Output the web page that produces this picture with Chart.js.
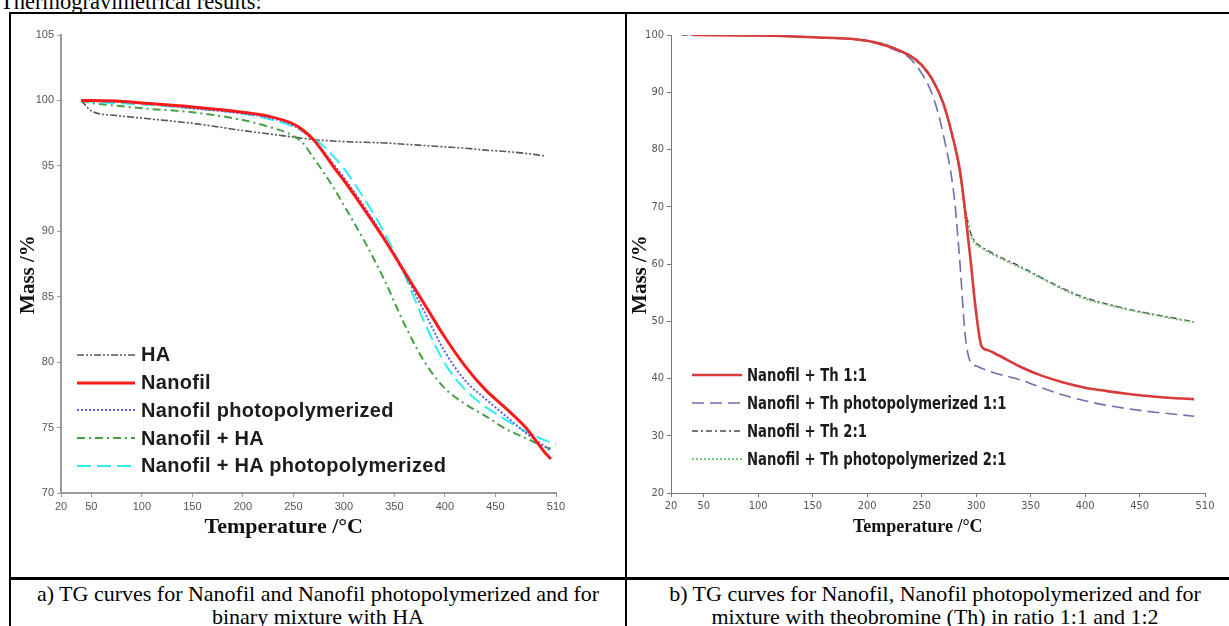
<!DOCTYPE html>
<html>
<head>
<meta charset="utf-8">
<script src="https://cdn.jsdelivr.net/npm/chart.js@4.4.0/dist/chart.umd.min.js"></script>
<style>
  html, body { margin: 0; padding: 0; background: #fff; }
  body { width: 1229px; height: 626px; overflow: hidden; position: relative; font-family: "Liberation Serif", "Times New Roman", serif; color: #000; }
  .heading { position: absolute; left: 0; top: -10px; font-size: 22.5px; line-height: 23px; white-space: nowrap; }
  .rule { position: absolute; background: #000; }
  .box { position: absolute; }
  .legend { position: absolute; font-weight: bold; color: #1c1c1c; white-space: nowrap; }
  .legend .row { display: flex; align-items: center; }
  .legend svg { display: block; flex: none; }
  .legend span { display: inline-block; transform-origin: left center; }
  .caption { position: absolute; top: 582px; text-align: center; font-size: 22px; line-height: 23px; white-space: nowrap; }
</style>
</head>
<body>
<div class="heading">Thermogravimetrical results:</div>

<div class="rule" style="left:9px;top:12px;width:1220px;height:2px"></div>
<div class="rule" style="left:9px;top:12px;width:2px;height:614px"></div>
<div class="rule" style="left:625px;top:12px;width:2px;height:614px"></div>
<div class="rule" style="left:9px;top:577px;width:1220px;height:3px"></div>

<div class="box" style="left:12px;top:15px;width:612px;height:560px"><canvas id="chartA"></canvas></div>
<div class="box" style="left:628px;top:15px;width:600px;height:560px"><canvas id="chartB"></canvas></div>

<div class="legend" id="legendA" style="left:77px;top:341px;font-family:'Liberation Sans',Arial,sans-serif;font-size:20px;letter-spacing:0.3px"></div>
<div class="legend" id="legendB" style="left:692px;top:361px;font-family:'Liberation Sans Narrow','DejaVu Sans Condensed',sans-serif;font-size:17px"></div>

<div class="caption" style="left:11px;width:614px">a) TG curves for Nanofil and Nanofil photopolymerized and for<br>binary mixture with HA</div>
<div class="caption" style="left:627px;width:616px">b) TG curves for Nanofil, Nanofil photopolymerized and for<br>mixture with theobromine (Th) in ratio 1:1 and 1:2</div>

<script>
// ---- chart a) data ----
const tempsA = [40, 50, 75, 100, 150, 200, 225, 250, 260, 270, 280, 290, 300, 320, 340, 360, 380, 400, 420, 440, 460, 480, 500, 505, 510];
const haMass       = [100, 99.2, 98.85, 98.65, 98.25, 97.7, 97.45, 97.2, 97.1, 97.0, 96.95, 96.9, 96.85, 96.8, 96.75, 96.65, 96.55, 96.45, 96.35, 96.2, 96.1, 95.95, 95.75, null, null];
const nanofilMass  = [100, 100, 99.95, 99.8, 99.5, 99.1, 98.8, 98.2, 97.7, 97.0, 96.0, 94.9, 93.9, 91.7, 89.4, 86.9, 84.4, 81.9, 79.7, 77.9, 76.5, 75.0, 73.0, 72.6, null];
const nanofilPhoto = [100, 99.95, 99.9, 99.8, 99.4, 99.0, 98.7, 98.1, 97.6, 97.0, 96.1, 95.1, 94.1, 91.9, 89.5, 86.8, 83.8, 80.8, 78.6, 77.2, 75.9, 74.6, 73.5, 73.2, null];
const nanofilHA    = [100, 99.8, 99.6, 99.4, 99.1, 98.5, 98.0, 97.3, 96.7, 95.6, 94.5, 93.3, 92.0, 89.3, 86.3, 82.9, 80.0, 78.0, 76.8, 75.9, 74.9, 74.2, 73.5, 73.4, null];
const nanofilHAPhoto = [100, 99.9, 99.8, 99.7, 99.4, 99.0, 98.6, 98.0, 97.6, 97.1, 96.5, 95.7, 94.8, 92.5, 89.9, 86.7, 83.0, 79.9, 77.9, 76.6, 75.6, 74.7, 74.0, null, 73.7];
const labelsA = ['HA', 'Nanofil', 'Nanofil photopolymerized', 'Nanofil + HA', 'Nanofil + HA photopolymerized'];

// ---- chart b) data ----
const tempsB = [30, 40, 100, 150, 200, 220, 240, 250, 260, 270, 280, 285, 290, 295, 300, 305, 310, 320, 340, 360, 380, 400, 420, 440, 460, 480, 500];
const th11      = [null, 100, 99.9, 99.6, 99.0, 98.0, 96.3, 94.8, 92.2, 88.0, 81.0, 76.5, 69.0, 60.5, 51.5, 45.6, 45.0, 44.1, 42.1, 40.5, 39.3, 38.4, 37.8, 37.3, 36.9, 36.6, 36.4];
const th11Photo = [null, 100, 99.9, 99.6, 98.9, 97.8, 95.8, 93.3, 89.5, 82.5, 71.5, 60.5, 47.5, 42.8, 42.2, 41.8, 41.4, 40.8, 39.8, 38.4, 37.1, 36.1, 35.3, 34.7, 34.2, 33.8, 33.4];
const th21      = [100, 100, 99.9, 99.6, 99.0, 98.1, 96.2, 94.6, 92.0, 87.8, 80.8, 76.0, 69.8, 65.4, 63.7, 63.0, 62.4, 61.4, 59.6, 57.6, 55.7, 54.1, 53.0, 52.1, 51.3, 50.6, 49.9];
const th21Photo = [null, 100, 99.9, 99.6, 99.0, 98.1, 96.2, 94.6, 92.0, 87.8, 80.8, 76.0, 69.5, 65.0, 63.4, 62.8, 62.2, 61.2, 59.4, 57.5, 55.5, 53.9, 52.9, 52.0, 51.2, 50.5, 49.8];
const labelsB = ['Nanofil + Th 1:1', 'Nanofil + Th photopolymerized 1:1', 'Nanofil + Th 2:1', 'Nanofil + Th photopolymerized 2:1'];

const xTicks = [20, 50, 100, 150, 200, 250, 300, 350, 400, 450, 510];

// trailing em spaces nudge the centred axis titles to where the original puts them
const xTitle = 'Temperature /°C\u2003\u2003 ';
const yTitle = 'Mass /%\u2003';

function pts(temps, vals) {
  return temps.map((t, i) => ({ x: t, y: vals[i] }));
}

function line(label, temps, vals, color, width, dash, order) {
  return {
    label: label,
    data: pts(temps, vals),
    borderColor: color,
    backgroundColor: color,
    borderWidth: width,
    borderDash: dash,
    pointRadius: 0,
    cubicInterpolationMode: 'monotone',
    spanGaps: true,
    order: order
  };
}

function makeChart(id, datasets, cfg) {
  return new Chart(document.getElementById(id), {
    type: 'line',
    data: { datasets: datasets },
    options: {
      responsive: true,
      maintainAspectRatio: false,
      animation: false,
      layout: { padding: { top: 20, right: cfg.padRight, left: 0, bottom: 0 } },
      plugins: { legend: { display: false }, tooltip: { enabled: false } },
      scales: {
        x: {
          type: 'linear',
          min: 20,
          max: 510,
          afterBuildTicks: s => { s.ticks = xTicks.map(v => ({ value: v })); },
          afterFit: s => { s.height = 82; },
          border: { color: cfg.axisColor, width: cfg.axisWidth },
          grid: { drawOnChartArea: false, tickLength: 4, color: cfg.axisColor },
          ticks: { color: '#555', font: cfg.tickFont, padding: 3, maxRotation: 0, autoSkip: false },
          title: { display: true, text: xTitle, color: '#111',
                   font: { family: "'Liberation Serif', 'Times New Roman', serif", size: cfg.xTitleSize, weight: 'bold' },
                   padding: { top: 0, bottom: cfg.xTitlePad } }
        },
        y: {
          min: cfg.yMin,
          max: cfg.yMax,
          afterFit: s => { s.width = cfg.yWidth; },
          border: { color: cfg.axisColor, width: cfg.axisWidth },
          grid: { drawOnChartArea: false, tickLength: 4, color: cfg.axisColor },
          ticks: { stepSize: cfg.yStep, color: '#555', font: cfg.tickFont, padding: 3 },
          title: { display: true, text: yTitle, color: '#111',
                   font: { family: "'Liberation Serif', 'Times New Roman', serif", size: 21, weight: 'bold' },
                   padding: { top: cfg.yTitlePad, bottom: 0 } }
        }
      }
    }
  });
}

function buildLegend(el, chart, sampleWidth, rowHeight, gap, squeeze) {
  chart.data.datasets.forEach(ds => {
    const row = document.createElement('div');
    row.className = 'row';
    row.style.height = rowHeight + 'px';
    const dash = (ds.borderDash || []).join(',');
    row.innerHTML =
      '<svg width="' + sampleWidth + '" height="8"><line x1="0" y1="4" x2="' + sampleWidth + '" y2="4" stroke="' + ds.borderColor +
      '" stroke-width="' + ds.borderWidth + '"' + (dash ? ' stroke-dasharray="' + dash + '"' : '') + '/></svg>' +
      '<span style="margin-left:' + gap + 'px;transform:scaleX(' + squeeze + ')">' + ds.label + '</span>';
    el.appendChild(row);
  });
}

const chartA = makeChart('chartA', [
  line(labelsA[0], tempsA, haMass, '#555555', 1.6, [7, 2, 2, 2, 2, 2], 4),
  line(labelsA[1], tempsA, nanofilMass, '#ff1a1a', 3, [], 0),
  line(labelsA[2], tempsA, nanofilPhoto, '#5c5cf0', 2, [2, 2], 1),
  line(labelsA[3], tempsA, nanofilHA, '#45a045', 2, [8, 4, 2, 4], 3),
  line(labelsA[4], tempsA, nanofilHAPhoto, '#2eeef2', 2, [14, 6], 2)
], {
  padRight: 68, yWidth: 49, yMin: 70, yMax: 105, yStep: 5,
  axisColor: '#9a9a9a', axisWidth: 2,
  tickFont: { family: "'Liberation Sans', Arial, sans-serif", size: 11 },
  xTitleSize: 22, xTitlePad: 34, yTitlePad: 4
});

const chartB = makeChart('chartB', [
  line(labelsB[0], tempsB, th11, '#d93a3a', 2.6, [], 0),
  line(labelsB[1], tempsB, th11Photo, '#6f6fae', 1.6, [12, 6], 1),
  line(labelsB[2], tempsB, th21, '#4a4a4a', 1.5, [6, 3, 2, 3], 3),
  line(labelsB[3], tempsB, th21Photo, '#7dc27d', 2, [2, 2], 2)
], {
  padRight: 23, yWidth: 43, yMin: 20, yMax: 100, yStep: 10,
  axisColor: '#777777', axisWidth: 1,
  tickFont: { family: "'Liberation Sans Narrow', 'DejaVu Sans Condensed', sans-serif", size: 11 },
  xTitleSize: 18, xTitlePad: 37, yTitlePad: 0
});

buildLegend(document.getElementById('legendA'), chartA, 58, 27.75, 6, 1);
buildLegend(document.getElementById('legendB'), chartB, 50, 28, 5, 0.865);
</script>
</body>
</html>
